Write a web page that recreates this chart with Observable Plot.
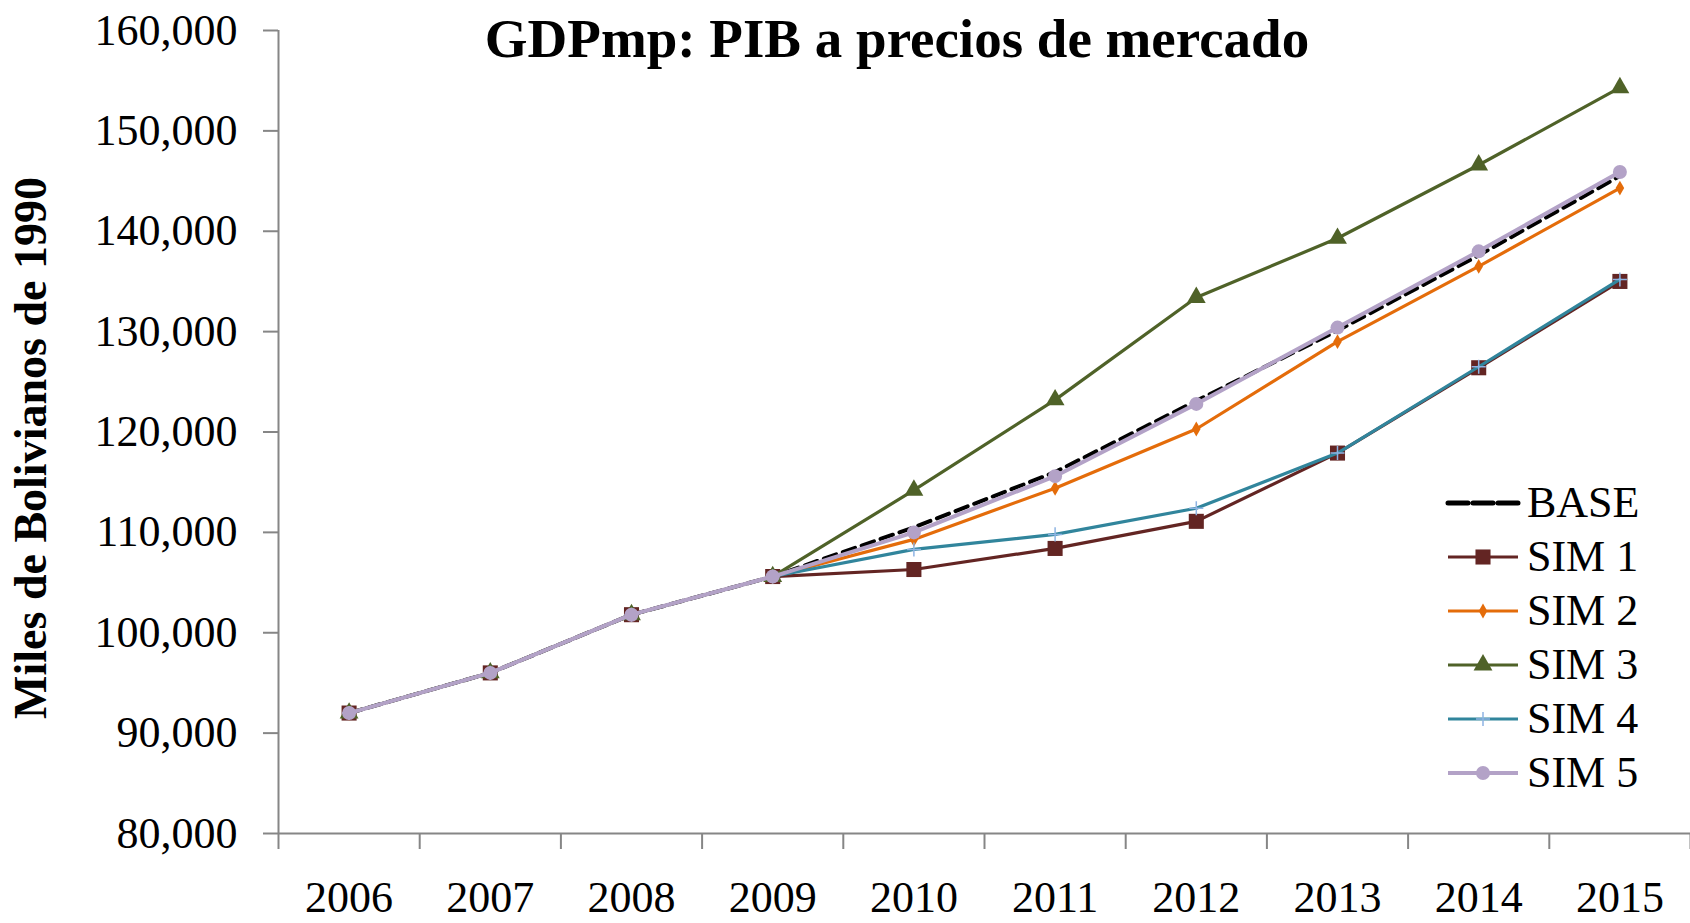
<!DOCTYPE html>
<html>
<head>
<meta charset="utf-8">
<script src="https://cdn.jsdelivr.net/npm/d3@7"></script>
<script src="https://cdn.jsdelivr.net/npm/@observablehq/plot@0.6"></script>
<style>
  html, body { margin: 0; padding: 0; background: #fff; }
  #wrap { position: relative; width: 1690px; height: 923px; overflow: hidden; font-family: "Liberation Serif", "Times New Roman", serif; }
  #title { position: absolute; left: 897px; top: 38px; transform: translate(-50%, -50%); font-weight: bold; font-size: 55px; line-height: 1; white-space: nowrap; color: #000; }
  #ylabel { position: absolute; left: 31px; top: 448px; transform: translate(-50%, -50%) rotate(-90deg); font-weight: bold; font-size: 46px; line-height: 1; white-space: nowrap; color: #000; }
  #legend { position: absolute; left: 1448px; top: 476px; font-size: 44px; color: #000; }
  #legend .row { display: flex; align-items: center; height: 54px; }
  #legend .row span { margin-left: 9px; line-height: 1; }
</style>
</head>
<body>
<div id="wrap">
  <div id="chart"></div>
  <div id="title">GDPmp: PIB a precios de mercado</div>
  <div id="ylabel">Miles de Bolivianos de 1990</div>
  <div id="legend"></div>
</div>
<script>
// ---- Data ----
const years = [2006, 2007, 2008, 2009, 2010, 2011, 2012, 2013, 2014, 2015];
const baseValues = [92000, 96000, 101800, 105600, 110500, 116000, 123100, 130100, 137600, 145500];
const sim1Values = [92000, 96000, 101800, 105600, 106300, 108400, 111100, 117900, 126400, 135000];
const sim2Values = [92000, 96000, 101800, 105600, 109300, 114400, 120300, 129000, 136500, 144300];
const sim3Values = [92000, 96000, 101800, 105600, 114200, 123200, 133400, 139300, 146600, 154300];
const sim4Values = [92000, 96000, 101800, 105600, 108300, 109800, 112400, 117900, 126500, 135200];
const sim5Values = [92000, 96000, 101800, 105600, 110000, 115600, 122800, 130400, 138000, 145900];
const seriesNames = ["BASE", "SIM 1", "SIM 2", "SIM 3", "SIM 4", "SIM 5"];
const seriesValues = [baseValues, sim1Values, sim2Values, sim3Values, sim4Values, sim5Values];
const yTicks = [80000, 90000, 100000, 110000, 120000, 130000, 140000, 150000, 160000];

// ---- Styles ----
const styles = [
  {stroke: "#000000", width: 4, dash: "13,7", symbol: null},
  {stroke: "#632523", width: 3.2, symbol: "square", r: 8.5, fill: "#632523"},
  {stroke: "#E46C0A", width: 3.2, symbol: "diamond", r: 4.5, fill: "#E46C0A"},
  {stroke: "#4F6228", width: 3.2, symbol: "triangle", r: 7, fill: "#4F6228"},
  {stroke: "#31859C", width: 3.2, symbol: "plus", r: 4.6, markStroke: "#8EB4E3"},
  {stroke: "#B3A2C7", width: 4, symbol: "circle", r: 7, fill: "#B3A2C7"}
];

const rows = seriesNames.map((s, i) => years.map((y, j) => ({serie: s, year: y, value: seriesValues[i][j]})));
const boundaries = years.map(y => y - 0.5).concat([years[years.length - 1] + 0.5]);

const marks = [
  Plot.axisY({ticks: yTicks, tickFormat: d3.format(","), tickSize: 15, tickPadding: 26, stroke: "#868686", strokeWidth: 2, fill: "#000", fontSize: 44, label: null}),
  Plot.axisX({ticks: boundaries, tickFormat: () => "", tickSize: 16, stroke: "#868686", strokeWidth: 2, label: null}),
  Plot.axisX({ticks: years, tickFormat: d => String(d), tickSize: 0, tickPadding: 47, fill: "#000", fontSize: 44, label: null}),
  Plot.ruleX([boundaries[0]], {stroke: "#868686", strokeWidth: 2}),
  Plot.ruleY([yTicks[0]], {stroke: "#868686", strokeWidth: 2})
];

rows.forEach((data, i) => {
  const st = styles[i];
  marks.push(Plot.line(data, {x: "year", y: "value", stroke: st.stroke, strokeWidth: st.width, strokeDasharray: st.dash, strokeLinejoin: "round"}));
  if (st.symbol === "plus") {
    marks.push(Plot.dot(data, {x: "year", y: "value", symbol: "plus", r: st.r, stroke: st.markStroke, strokeWidth: 1.5, fill: "none"}));
  } else if (st.symbol) {
    marks.push(Plot.dot(data, {x: "year", y: "value", symbol: st.symbol, r: st.r, fill: st.fill, stroke: "none"}));
  }
});

const chart = Plot.plot({
  width: 1690,
  height: 923,
  marginLeft: 278,
  marginRight: 0,
  marginTop: 30,
  marginBottom: 90,
  x: {domain: [boundaries[0], boundaries[boundaries.length - 1]]},
  y: {domain: [yTicks[0], yTicks[yTicks.length - 1]]},
  style: {fontFamily: "'Liberation Serif', 'Times New Roman', serif", fontSize: "44px", background: "#fff", color: "#000", overflow: "visible"},
  marks
});
document.getElementById("chart").appendChild(chart);

// ---- Legend (HTML overlay inside the plot area) ----
const symbolMap = {square: d3.symbolSquare, diamond: d3.symbolDiamond, triangle: d3.symbolTriangle, plus: d3.symbolPlus, circle: d3.symbolCircle};
const legend = d3.select("#legend");
seriesNames.forEach((name, i) => {
  const st = styles[i];
  const row = legend.append("div").attr("class", "row");
  const svg = row.append("svg").attr("width", 70).attr("height", 24).style("overflow", "visible");
  svg.append("line").attr("x1", 0).attr("x2", 70).attr("y1", 12).attr("y2", 12)
    .attr("stroke", st.stroke).attr("stroke-width", st.dash ? 5 : st.width)
    .attr("stroke-dasharray", st.dash ? "20,5" : null)
    .attr("stroke-linecap", st.dash ? "round" : "butt");
  if (st.symbol) {
    const path = d3.symbol(symbolMap[st.symbol], st.r * st.r * Math.PI)();
    const p = svg.append("path").attr("d", path).attr("transform", "translate(35,12)");
    if (st.symbol === "plus") p.attr("fill", "none").attr("stroke", st.markStroke).attr("stroke-width", 1.5);
    else p.attr("fill", st.fill);
  }
  row.append("span").text(name);
});
</script>
</body>
</html>
